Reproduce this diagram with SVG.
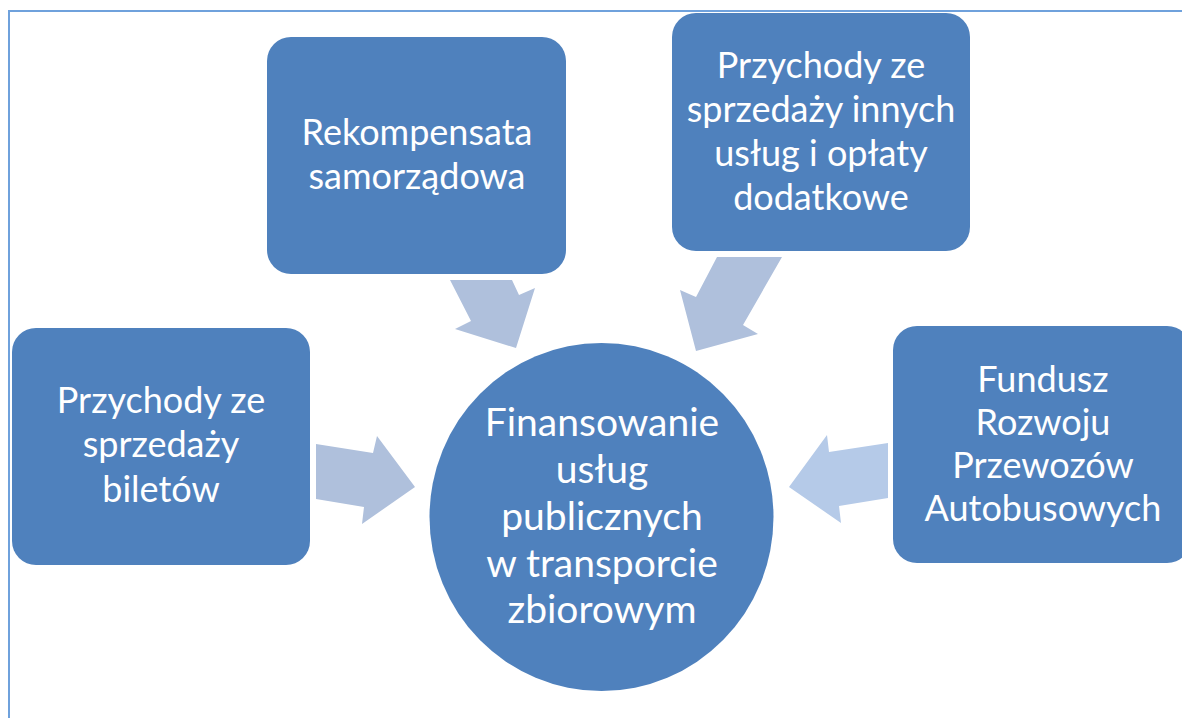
<svg xmlns="http://www.w3.org/2000/svg" width="1182" height="718" viewBox="0 0 1182 718">
<style>
.node{fill:#4f81bd}
.arr{fill:#afc0dc}
.arr2{fill:#b5cae8}
.t{font-family:Lato,"Open Sans","Liberation Sans",sans-serif;fill:#ffffff;text-anchor:middle}
.big{font-size:39px}
.mid{font-size:36px}
</style>
<rect x="0" y="0" width="1182" height="718" fill="#ffffff"/>
<path d="M9,718 V11 H1182" fill="none" stroke="#6fa1dc" stroke-width="2"/>
<g id="connectors">
<polygon class="arr" points="316,444 373,453 377,436 415,487 362,524 364,507 316,499"/>
<polygon class="arr" points="450,280 512,280 519,295 535,288 516,348 455,329 471,321"/>
<polygon class="arr" points="782,257 717,257 696,297 680,290 696,351 758,334 743,325"/>
<polygon class="arr2" points="888,443 829,452 827,435 789,487 841,523 839,506 888,498"/>
</g>
<g id="node-rekompensata">
<rect class="node" x="267" y="37" width="299" height="237" rx="24"/>
<text class="t mid" x="417" y="145">Rekompensata</text>
<text class="t mid" x="417" y="189">samorządowa</text>
</g>
<g id="node-inne">
<rect class="node" x="672" y="13" width="298" height="238" rx="24"/>
<text class="t mid" x="821" y="78">Przychody ze</text>
<text class="t mid" x="821" y="122">sprzedaży innych</text>
<text class="t mid" x="821" y="166">usług i opłaty</text>
<text class="t mid" x="821" y="210">dodatkowe</text>
</g>
<g id="node-bilety">
<rect class="node" x="12" y="328" width="298" height="237" rx="24"/>
<text class="t mid" x="161" y="413">Przychody ze</text>
<text class="t mid" x="161" y="457">sprzedaży</text>
<text class="t mid" x="161" y="502">biletów</text>
</g>
<g id="node-fundusz">
<rect class="node" x="893" y="326" width="298" height="237" rx="24"/>
<text class="t mid" x="1043" y="392">Fundusz</text>
<text class="t mid" x="1043" y="435">Rozwoju</text>
<text class="t mid" x="1043" y="478">Przewozów</text>
<text class="t mid" x="1043" y="521">Autobusowych</text>
</g>
<g id="node-center">
<ellipse class="node" cx="601.5" cy="517" rx="172" ry="174"/>
<text class="t big" x="602" y="436">Finansowanie</text>
<text class="t big" x="602" y="483">usług</text>
<text class="t big" x="602" y="530">publicznych</text>
<text class="t big" x="602" y="577">w transporcie</text>
<text class="t big" x="602" y="623">zbiorowym</text>
</g>
</svg>
